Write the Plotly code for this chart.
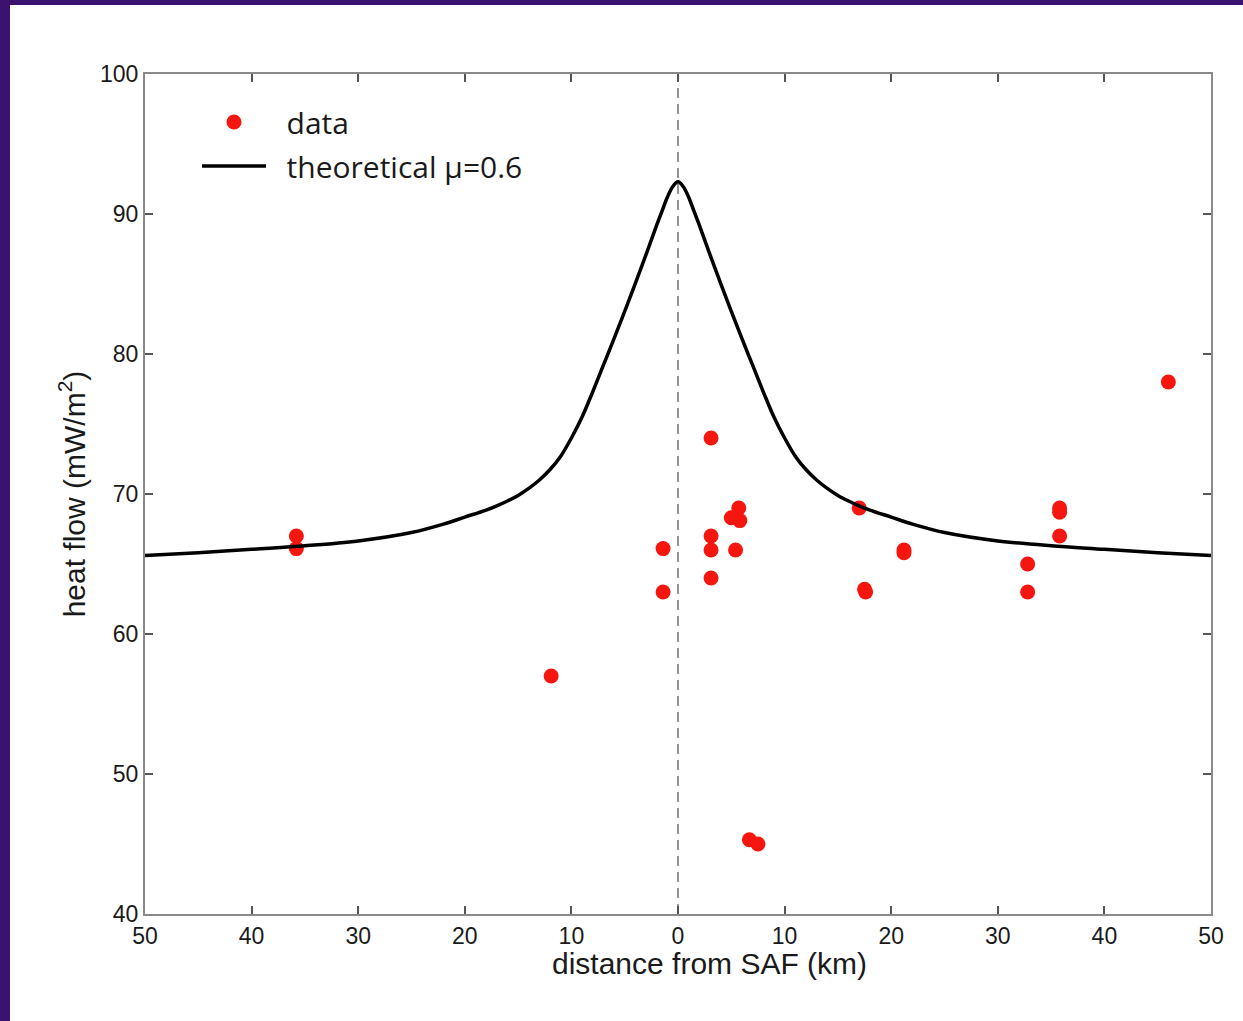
import plotly.graph_objects as go

# ---- data ----
data_x = [-35.8, -35.8, -11.9, -1.4, -1.4, 3.1, 3.1, 3.1, 3.1, 5.7, 5.0, 5.8, 5.4,
          6.7, 7.5, 17.0, 17.5, 17.6, 21.2, 21.2, 32.8, 32.8, 35.8, 35.8, 35.8, 46.0]
data_y = [67.0, 66.1, 57.0, 66.1, 63.0, 74.0, 67.0, 66.0, 64.0, 69.0, 68.3, 68.1, 66.0,
          45.3, 45.0, 69.0, 63.2, 63.0, 66.0, 65.8, 65.0, 63.0, 69.0, 68.7, 67.0, 78.0]

curve_x = [-50, -45, -40, -35, -30, -25, -22, -20, -18, -17, -16, -15, -14, -13, -12, -11, -10,
           -9, -8, -7, -6, -5, -4, -3, -2, -1.5, -1, -0.5, 0,
           0.5, 1, 1.5, 2, 3, 4, 5, 6, 7, 8, 9,
           10, 11, 12, 13, 14, 15, 16, 17, 18, 20, 22, 25, 30, 35, 40, 45, 50]
curve_y = [65.6, 65.8, 66.05, 66.3, 66.65, 67.25, 67.85, 68.35, 68.85, 69.15, 69.5, 69.9, 70.4, 71.0, 71.75, 72.7, 74.0,
           75.5, 77.3, 79.2, 81.1, 83.05, 85.05, 87.1, 89.2, 90.2, 91.2, 91.95, 92.3,
           91.95, 91.2, 90.2, 89.2, 87.1, 85.05, 83.05, 81.1, 79.2, 77.3, 75.5,
           74.0, 72.7, 71.75, 71.0, 70.4, 69.9, 69.5, 69.15, 68.85, 68.35, 67.85, 67.25, 66.65, 66.3, 66.05, 65.8, 65.6]

x_tickvals = [-50, -40, -30, -20, -10, 0, 10, 20, 30, 40, 50]
x_ticktext = ["50", "40", "30", "20", "10", "0", "10", "20", "30", "40", "50"]
y_tickvals = [40, 50, 60, 70, 80, 90, 100]

FONT = "Liberation Sans, Arial, sans-serif"

fig = go.Figure()

fig.add_trace(go.Scatter(
    x=data_x, y=data_y, mode="markers", name="\u00a0\u00a0data",
    marker=dict(color="#f5160f", size=15, line=dict(width=0)),
    legendgroup="a",
))
fig.add_trace(go.Scatter(
    x=curve_x, y=curve_y, mode="lines", name="\u00a0\u00a0theoretical \u03bc=0.6",
    line=dict(color="black", width=3.5, shape="spline", smoothing=1.0),
    legendgroup="b",
))

# dashed fault line at x = 0
fig.add_shape(type="line", xref="x", yref="y", x0=0, x1=0, y0=40, y1=100,
              line=dict(color="#707070", width=1.5, dash="10px,6px"), layer="below")

# white page inside the purple frame
fig.add_shape(type="rect", xref="paper", yref="paper",
              x0=(10 - 145) / 1066, x1=(1260 - 145) / 1066,
              y0=(914 - 1040) / 840, y1=(914 - 5) / 840,
              fillcolor="white", line=dict(width=0), layer="below")

axis_common = dict(
    showline=True, linecolor="#8a8a8a", linewidth=2,
    mirror="ticks", ticks="inside", ticklen=8, tickwidth=1.5, tickcolor="#555555",
    showgrid=False, zeroline=False,
    tickfont=dict(family=FONT, size=23, color="#1a1a1a"),
)

fig.update_xaxes(range=[-50, 50], tickvals=x_tickvals, ticktext=x_ticktext, **axis_common)
fig.update_yaxes(
    range=[40, 100], tickvals=y_tickvals,
    title=dict(text="heat flow (mW/m<sup>2</sup>)", standoff=6,
               font=dict(family=FONT, size=30, color="#1a1a1a")),
    **axis_common,
)

# x-axis label (offset to the right as in the reference)
fig.add_annotation(
    text="distance from SAF (km)", xref="paper", yref="paper",
    x=(709 - 145) / 1066, y=(914 - 963) / 840, xanchor="center", yanchor="middle",
    showarrow=False, font=dict(family=FONT, size=30, color="#1a1a1a"),
)

fig.update_layout(
    width=1243, height=1021,
    margin=dict(l=145, r=32, t=74, b=107),
    paper_bgcolor="#3c1270",
    plot_bgcolor="white",
    showlegend=True,
    legend=dict(
        x=(197 - 145) / 1066, y=(914 - 96) / 840, xanchor="left", yanchor="top",
        bgcolor="rgba(0,0,0,0)", borderwidth=0,
        font=dict(family="Open Sans, sans-serif", size=30, color="#1a1a1a"),
        itemwidth=64, traceorder="grouped", tracegroupgap=2,
    ),
)

fig.write_html("out.html")
